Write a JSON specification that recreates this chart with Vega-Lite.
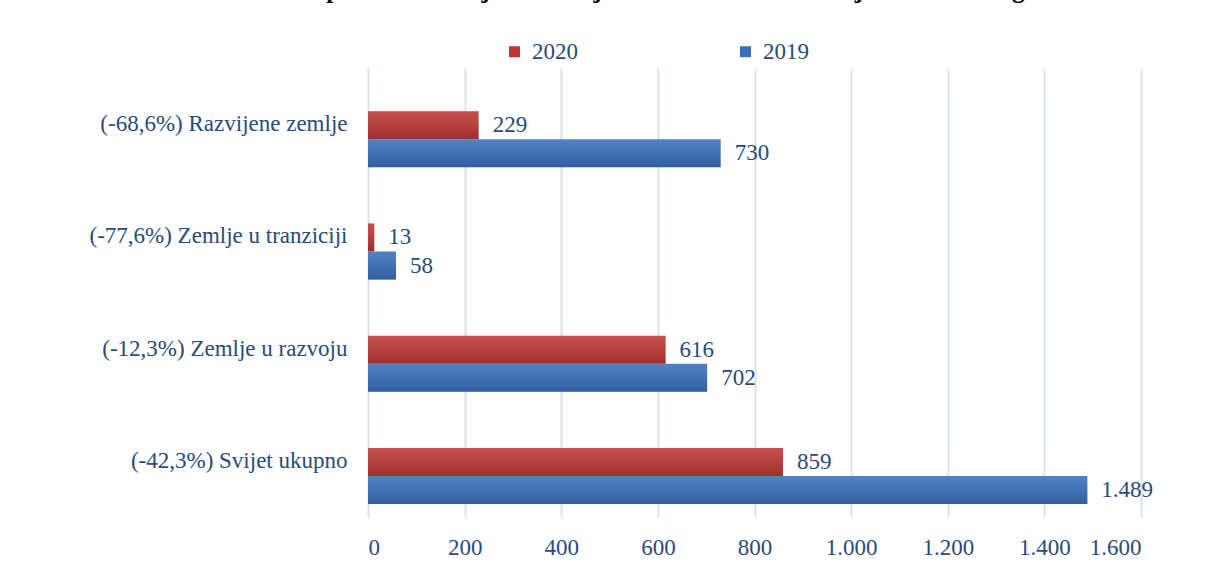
{
  "$schema": "https://vega.github.io/schema/vega-lite/v6.json",
  "width": 773,
  "height": 449,
  "autosize": "none",
  "padding": {"left": 368, "top": 68, "right": 65, "bottom": 58},
  "background": "white",
  "title": {
    "text": "Grafikon 1.2. Ukupno SDU u svijetu u milijardama USD u razdoblju 2019./2020. god.",
    "anchor": "start",
    "frame": "group",
    "dx": -240,
    "dy": -33,
    "font": "Liberation Serif",
    "fontSize": 25.5,
    "fontWeight": "bold",
    "color": "black"
  },
  "data": {
    "values": [
      {"grupa": "(-68,6%) Razvijene zemlje", "godina": "2020", "iznos": 229},
      {"grupa": "(-68,6%) Razvijene zemlje", "godina": "2019", "iznos": 730},
      {"grupa": "(-77,6%) Zemlje u tranziciji", "godina": "2020", "iznos": 13},
      {"grupa": "(-77,6%) Zemlje u tranziciji", "godina": "2019", "iznos": 58},
      {"grupa": "(-12,3%) Zemlje u razvoju", "godina": "2020", "iznos": 616},
      {"grupa": "(-12,3%) Zemlje u razvoju", "godina": "2019", "iznos": 702},
      {"grupa": "(-42,3%) Svijet ukupno", "godina": "2020", "iznos": 859},
      {"grupa": "(-42,3%) Svijet ukupno", "godina": "2019", "iznos": 1489}
    ]
  },
  "encoding": {
    "y": {
      "field": "grupa",
      "type": "nominal",
      "sort": null,
      "title": null,
      "scale": {"paddingInner": 0, "paddingOuter": 0},
      "axis": {"ticks": false, "domain": false, "labelPadding": 21, "labelLimit": 400}
    },
    "yOffset": {
      "field": "godina",
      "type": "nominal",
      "scale": {"domain": ["2020", "2019"], "paddingInner": 0, "paddingOuter": 1.04, "align": 0.77}
    },
    "x": {
      "field": "iznos",
      "type": "quantitative",
      "title": null,
      "scale": {"domain": [0, 1600]},
      "axis": {
        "values": [0, 200, 400, 600, 800, 1000, 1200, 1400, 1600],
        "ticks": false,
        "domain": false,
        "labelPadding": 19,
        "labelExpr": "replace(format(datum.value, ','), ',', '.')"
      }
    }
  },
  "layer": [
    {
      "mark": {"type": "bar"},
      "encoding": {
        "color": {
          "field": "godina",
          "type": "nominal",
          "title": null,
          "scale": {"domain": ["2020", "2019"], "range": ["#BE3634", "#3770BC"]},
          "legend": {
            "orient": "none",
            "legendX": 135,
            "legendY": -28,
            "direction": "horizontal",
            "columnPadding": 156,
            "symbolType": "square",
            "symbolSize": 121,
            "symbolStrokeWidth": 0,
            "labelOffset": 6
          }
        }
      }
    },
    {
      "mark": {
        "type": "bar",
        "fill": {
          "gradient": "linear",
          "x1": 0, "y1": 0, "x2": 0, "y2": 1,
          "stops": [
            {"offset": 0, "color": "rgba(255,255,255,0.12)"},
            {"offset": 1, "color": "rgba(0,0,0,0.16)"}
          ]
        }
      }
    },
    {
      "mark": {"type": "text", "align": "left", "dx": 14, "baseline": "middle"},
      "encoding": {
        "text": {"field": "iznos", "type": "quantitative", "format": ",d"}
      }
    }
  ],
  "config": {
    "locale": {"number": {"decimal": ",", "thousands": ".", "grouping": [3], "currency": ["", ""]}},
    "font": "Liberation Serif",
    "view": {"stroke": null},
    "axis": {
      "labelFont": "Liberation Serif",
      "labelFontSize": 23,
      "labelColor": "#2A4A7A",
      "gridColor": "#D6E3F4",
      "gridWidth": 2
    },
    "axisY": {"grid": false},
    "legend": {"labelFont": "Liberation Serif", "labelFontSize": 23, "labelColor": "#2A4A7A"},
    "text": {"font": "Liberation Serif", "fontSize": 23, "color": "#2A4A7A"}
  }
}
